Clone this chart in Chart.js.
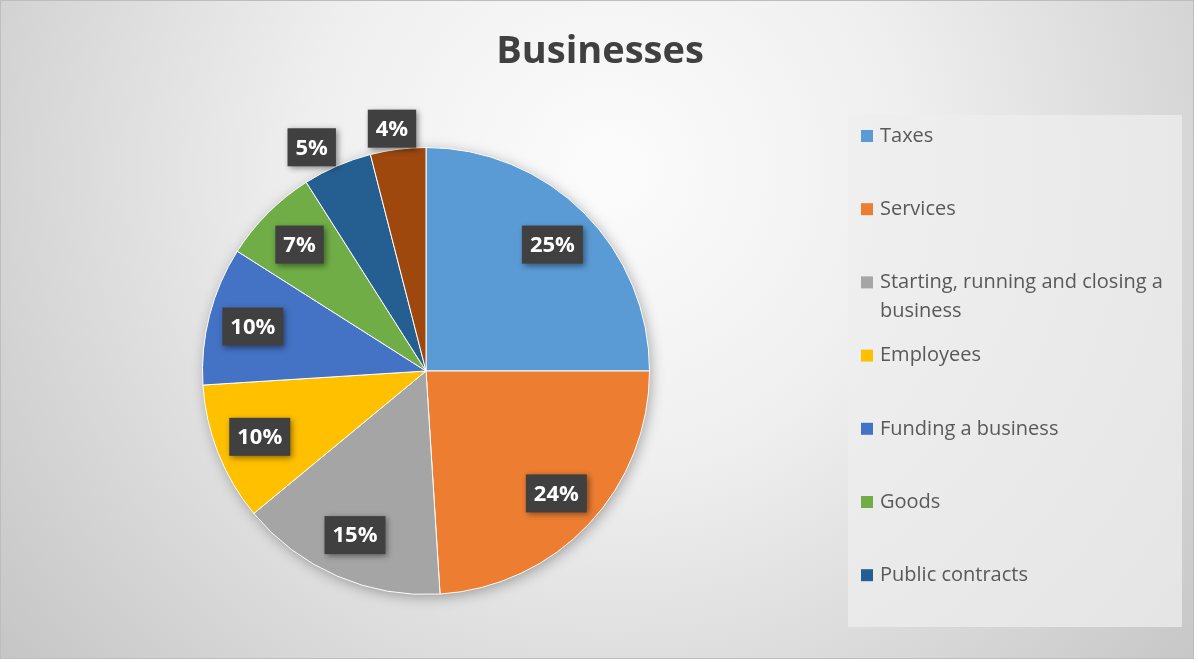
<!DOCTYPE html>
<html>
<head>
<meta charset="utf-8">
<script src="https://cdn.jsdelivr.net/npm/chart.js@4.4.1/dist/chart.umd.min.js"></script>
<style>
  html, body { margin: 0; padding: 0; background: #fff; }
  #wrap { width: 1198px; height: 663px; position: relative; }
</style>
</head>
<body>
<div id="wrap"><canvas id="myChart" width="1198" height="663"></canvas></div>
<script>
// chart data
const chartTitle = 'Businesses';
const labels = ['Taxes', 'Services', 'Starting, running and closing a business', 'Employees',
  'Funding a business', 'Goods', 'Public contracts', 'Other'];
const shares = [25, 24, 15, 10, 10, 7, 5, 4];
const colours = ['#5B9BD5', '#ED7D31', '#A5A5A5', '#FFC000', '#4472C4', '#70AD47', '#255E91', '#9E480E'];
// legend shows only the first 7 entries, the box is cut off in the original
const legendCount = 7;

const FONT = '"Open Sans", "Noto Sans", sans-serif';

// gradient background + frame
const backdrop = {
  id: 'backdrop',
  beforeDraw(chart) {
    const ctx = chart.ctx;
    ctx.save();
    const g = ctx.createRadialGradient(610, 170, 20, 610, 170, 820);
    g.addColorStop(0, '#fbfbfb');
    g.addColorStop(0.35, '#efefef');
    g.addColorStop(1, '#c2c2c2');
    ctx.fillStyle = g;
    ctx.fillRect(0, 0, 1194, 659);
    ctx.strokeStyle = '#bdbdbd';
    ctx.lineWidth = 1;
    ctx.strokeRect(0.5, 0.5, 1193, 658);

    // title
    ctx.fillStyle = '#404040';
    ctx.font = 'bold 38px ' + FONT;
    ctx.textAlign = 'center';
    ctx.textBaseline = 'middle';
    ctx.fillText(chartTitle, 600, 52);
    ctx.restore();
  },
  beforeDatasetsDraw(chart) {
    // soft shadow under the pie
    const arc = chart.getDatasetMeta(0).data[0];
    if (!arc) return;
    const ctx = chart.ctx;
    ctx.save();
    ctx.shadowColor = 'rgba(0,0,0,0.35)';
    ctx.shadowBlur = 14;
    ctx.shadowOffsetX = 2;
    ctx.shadowOffsetY = 3;
    ctx.fillStyle = '#999';
    ctx.beginPath();
    ctx.arc(arc.x, arc.y, arc.outerRadius - 1, 0, Math.PI * 2);
    ctx.fill();
    ctx.restore();
  }
};

// legend box drawn by hand so the long label can wrap
const boxLegend = {
  id: 'boxLegend',
  afterDraw(chart) {
    const ctx = chart.ctx;
    ctx.save();
    ctx.fillStyle = 'rgba(238,238,238,0.75)';
    ctx.fillRect(848, 115, 334, 512);
    ctx.font = '20px ' + FONT;
    ctx.textBaseline = 'middle';
    ctx.textAlign = 'left';
    const maxW = 298;
    let y = 136;
    for (let i = 0; i < legendCount; i++) {
      ctx.fillStyle = colours[i];
      ctx.fillRect(861, y - 6, 12, 12);
      ctx.fillStyle = '#595959';
      // wrap words
      const words = labels[i].split(' ');
      const lines = [];
      let line = '';
      words.forEach(w => {
        const test = line ? line + ' ' + w : w;
        if (ctx.measureText(test).width > maxW && line) {
          lines.push(line);
          line = w;
        } else {
          line = test;
        }
      });
      lines.push(line);
      lines.forEach((l, k) => ctx.fillText(l, 880, y + k * 29));
      y += 73.2;
    }
    ctx.restore();
  }
};

// dark boxed percentage labels
const pctLabels = {
  id: 'pctLabels',
  afterDatasetsDraw(chart) {
    const ctx = chart.ctx;
    const meta = chart.getDatasetMeta(0);
    const total = shares.reduce((a, b) => a + b, 0);
    ctx.save();
    ctx.font = 'bold 22px ' + FONT;
    ctx.textAlign = 'center';
    ctx.textBaseline = 'middle';
    meta.data.forEach((arc, i) => {
      const pct = Math.round(shares[i] / total * 100);
      const mid = (arc.startAngle + arc.endAngle) / 2;
      const outside = pct < 6;
      const f = outside ? 1.12 : 0.8;
      let x = arc.x + Math.cos(mid) * arc.outerRadius * f;
      let y = arc.y + Math.sin(mid) * arc.outerRadius * f;
      if (outside) { x += Math.cos(mid) * 45 + 3; y += 6; }
      const txt = pct + '%';
      const w = ctx.measureText(txt).width + 16;
      const h = 38;
      ctx.shadowColor = 'rgba(0,0,0,0.45)';
      ctx.shadowBlur = 6;
      ctx.shadowOffsetX = 2;
      ctx.shadowOffsetY = 2;
      ctx.fillStyle = '#404040';
      ctx.fillRect(x - w / 2, y - h / 2, w, h);
      ctx.shadowColor = 'transparent';
      ctx.fillStyle = '#ffffff';
      ctx.fillText(txt, x, y + 1);
    });
    ctx.restore();
  }
};

const ctx = document.getElementById('myChart');
new Chart(ctx, {
  type: 'pie',
  data: {
    labels: labels,
    datasets: [{
      data: shares,
      backgroundColor: colours,
      borderColor: '#ffffff',
      borderWidth: 1
    }]
  },
  options: {
    responsive: false,
    animation: false,
    layout: { padding: { left: 202, right: 548, top: 147, bottom: 68 } },
    plugins: {
      legend: { display: false },
      title: { display: false },
      tooltip: { enabled: false }
    }
  },
  plugins: [backdrop, pctLabels, boxLegend]
});
</script>
</body>
</html>
